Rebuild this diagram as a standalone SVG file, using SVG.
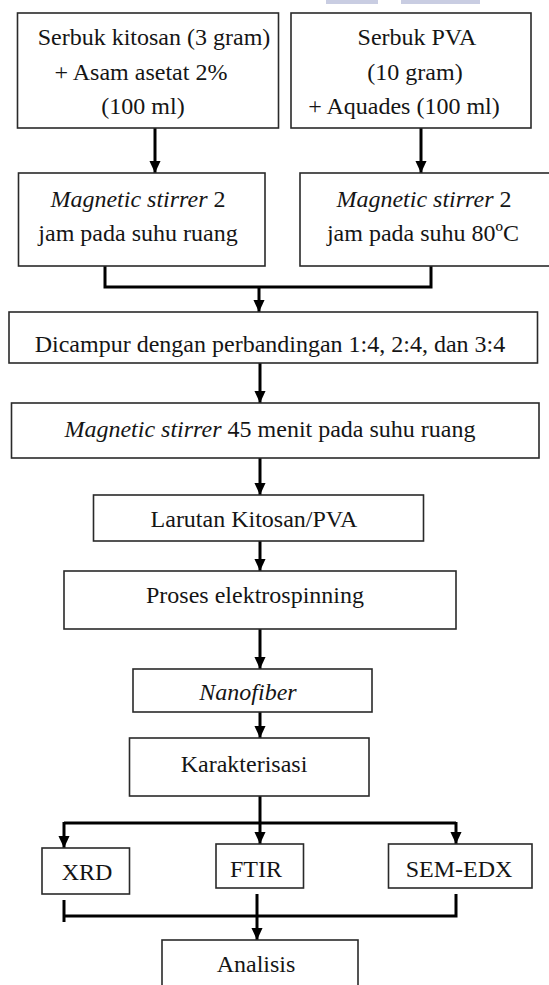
<svg xmlns="http://www.w3.org/2000/svg" width="549" height="985" viewBox="0 0 549 985">
<style>
.box{fill:#fff;stroke:#2a2a2a;stroke-width:1.6}
.t{font-family:"Liberation Serif","Times New Roman",serif;font-size:24px;fill:#151515;text-anchor:middle}
.i{font-style:italic}
.c{fill:none;stroke:#000;stroke-width:3}
.wm{fill:#c9cde2}
</style>
<defs>
<marker id="ah" markerUnits="userSpaceOnUse" markerWidth="12" markerHeight="14" refX="13" refY="6" orient="auto" viewBox="0 0 13 12">
<path d="M0,0 L13,6 L0,12 z" fill="#000"/>
</marker>
</defs>
<rect width="549" height="985" fill="#fff"/>
<rect class="wm" x="326" y="0" width="52" height="4"/>
<rect class="wm" x="401" y="0" width="79" height="4"/>

<g id="connectors">
<line class="c" x1="155" y1="128" x2="155" y2="173" marker-end="url(#ah)"/>
<line class="c" x1="421" y1="128" x2="421" y2="173" marker-end="url(#ah)"/>
<polyline class="c" points="105,266 105,287 431,287 431,266"/>
<line class="c" x1="259" y1="287" x2="259" y2="312" marker-end="url(#ah)"/>
<line class="c" x1="260" y1="363" x2="260" y2="403" marker-end="url(#ah)"/>
<line class="c" x1="260" y1="458" x2="260" y2="495" marker-end="url(#ah)"/>
<line class="c" x1="260" y1="541" x2="260" y2="571" marker-end="url(#ah)"/>
<line class="c" x1="260" y1="629" x2="260" y2="669" marker-end="url(#ah)"/>
<line class="c" x1="260" y1="712" x2="260" y2="738" marker-end="url(#ah)"/>
<line class="c" x1="260" y1="796" x2="260" y2="823"/>
<line class="c" x1="64" y1="823" x2="456" y2="823"/>
<line class="c" x1="64" y1="822" x2="64" y2="848" marker-end="url(#ah)"/>
<line class="c" x1="260" y1="823" x2="260" y2="844" marker-end="url(#ah)"/>
<line class="c" x1="456" y1="822" x2="456" y2="844" marker-end="url(#ah)"/>
<line class="c" x1="64" y1="900" x2="64" y2="922"/>
<polyline class="c" points="64,916 456,916 456,894"/>
<line class="c" x1="257" y1="894" x2="257" y2="940" marker-end="url(#ah)"/>
</g>

<g id="n1">
<rect class="box" x="17.5" y="13" width="261" height="115"/>
<text class="t" x="154" y="45">Serbuk kitosan (3 gram)</text>
<text class="t" x="141" y="80">+ Asam asetat 2%</text>
<text class="t" x="143" y="114">(100 ml)</text>
</g>
<g id="n2">
<rect class="box" x="291" y="13" width="240" height="115"/>
<text class="t" x="417" y="45">Serbuk PVA</text>
<text class="t" x="415" y="80">(10 gram)</text>
<text class="t" x="404" y="114">+ Aquades (100 ml)</text>
</g>
<g id="n3">
<rect class="box" x="18.5" y="173" width="246.5" height="93"/>
<text class="t" x="138" y="207"><tspan class="i">Magnetic stirrer</tspan> 2</text>
<text class="t" x="138" y="241">jam pada suhu ruang</text>
</g>
<g id="n4">
<rect class="box" x="300" y="173" width="252" height="93"/>
<text class="t" x="424" y="207"><tspan class="i">Magnetic stirrer</tspan> 2</text>
<text class="t" x="423" y="241">jam pada suhu 80ºC</text>
</g>
<g id="n5">
<rect class="box" x="9" y="312" width="528.5" height="51"/>
<text class="t" x="270" y="352">Dicampur dengan perbandingan 1:4, 2:4, dan 3:4</text>
</g>
<g id="n6">
<rect class="box" x="11.5" y="403" width="527.5" height="55"/>
<text class="t" x="270" y="437"><tspan class="i">Magnetic stirrer</tspan> 45 menit pada suhu ruang</text>
</g>
<g id="n7">
<rect class="box" x="93.5" y="495" width="330" height="46"/>
<text class="t" x="254" y="527">Larutan Kitosan/PVA</text>
</g>
<g id="n8">
<rect class="box" x="64" y="571" width="392" height="58"/>
<text class="t" x="255" y="603">Proses elektrospinning</text>
</g>
<g id="n9">
<rect class="box" x="133" y="669" width="239" height="43"/>
<text class="t i" x="248" y="700">Nanofiber</text>
</g>
<g id="n10">
<rect class="box" x="129.5" y="738" width="239.5" height="58"/>
<text class="t" x="244" y="772">Karakterisasi</text>
</g>
<g id="n11">
<rect class="box" x="42" y="848" width="87.5" height="46"/>
<text class="t" x="87" y="880">XRD</text>
</g>
<g id="n12">
<rect class="box" x="216" y="844" width="87.5" height="44"/>
<text class="t" x="256" y="877">FTIR</text>
</g>
<g id="n13">
<rect class="box" x="388.5" y="844" width="143.5" height="44"/>
<text class="t" x="459" y="877">SEM-EDX</text>
</g>
<g id="n14">
<rect class="box" x="162" y="940" width="196" height="60"/>
<text class="t" x="256" y="972">Analisis</text>
</g>
</svg>
